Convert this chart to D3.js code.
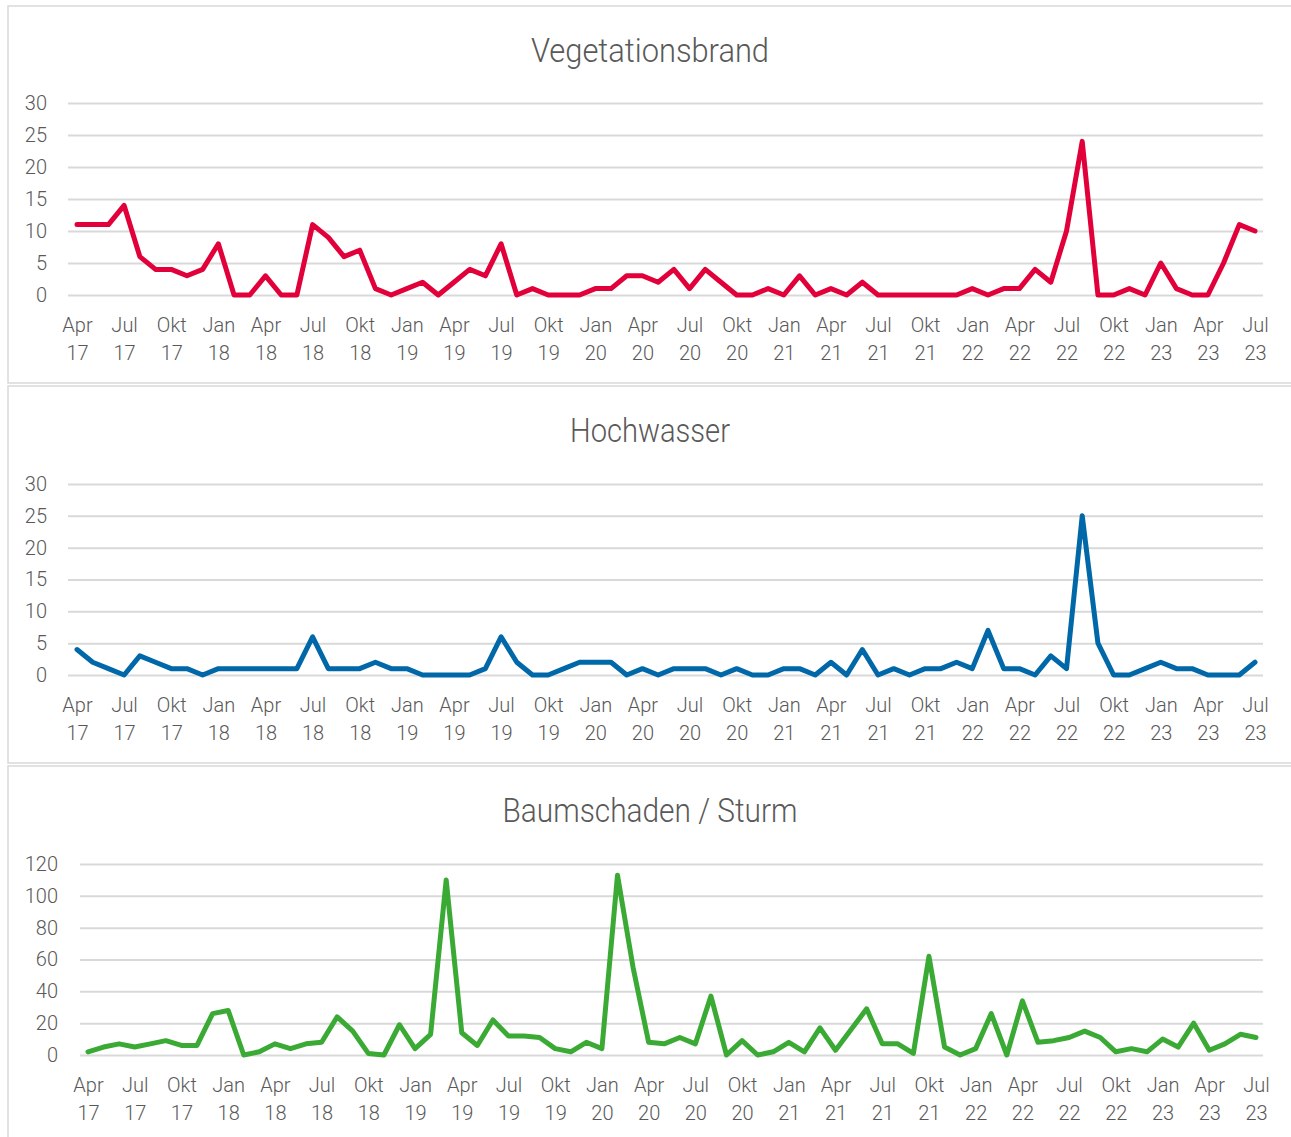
<!DOCTYPE html>
<html>
<head>
<meta charset="utf-8">
<script src="https://cdn.jsdelivr.net/npm/d3@7"></script>
<style>
  body { margin: 0; background: #fff; }
  svg text { font-family: Roboto, "Open Sans", sans-serif; font-weight: 300; fill: #595959; }
</style>
</head>
<body>
<div id="chart"></div>
<script>
// Monthly counts, Apr 2017 - Jul 2023
const monthNames = ['Jan', 'Feb', 'Mär', 'Apr', 'Mai', 'Jun', 'Jul', 'Aug', 'Sep', 'Okt', 'Nov', 'Dez']
const months = d3.timeMonth.range(new Date(2017, 3, 1), new Date(2023, 7, 1))

const vegetationsbrand = [
  11, 11, 11, 14, 6, 4, 4, 3, 4,
  8, 0, 0, 3, 0, 0, 11, 9, 6, 7, 1, 0,
  1, 2, 0, 2, 4, 3, 8, 0, 1, 0, 0, 0,
  1, 1, 3, 3, 2, 4, 1, 4, 2, 0, 0, 1,
  0, 3, 0, 1, 0, 2, 0, 0, 0, 0, 0, 0,
  1, 0, 1, 1, 4, 2, 10, 24, 0, 0, 1, 0,
  5, 1, 0, 0, 5, 11, 10
]
const hochwasser = [
  4, 2, 1, 0, 3, 2, 1, 1, 0,
  1, 1, 1, 1, 1, 1, 6, 1, 1, 1, 2, 1,
  1, 0, 0, 0, 0, 1, 6, 2, 0, 0, 1, 2,
  2, 2, 0, 1, 0, 1, 1, 1, 0, 1, 0, 0,
  1, 1, 0, 2, 0, 4, 0, 1, 0, 1, 1, 2,
  1, 7, 1, 1, 0, 3, 1, 25, 5, 0, 0, 1,
  2, 1, 1, 0, 0, 0, 2
]
const baumschaden = [
  2, 5, 7, 5, 7, 9, 6, 6, 26,
  28, 0, 2, 7, 4, 7, 8, 24, 15, 1, 0, 19,
  4, 13, 110, 14, 6, 22, 12, 12, 11, 4, 2, 8,
  4, 113, 55, 8, 7, 11, 7, 37, 0, 9, 0, 2,
  8, 2, 17, 3, 16, 29, 7, 7, 1, 62, 5, 0,
  4, 26, 0, 34, 8, 9, 11, 15, 11, 2, 4, 2,
  10, 5, 20, 3, 7, 13, 11
]

const width = 1291
const height = 1137

const panels = [
  { title: 'Vegetationsbrand', titleW: 238, values: vegetationsbrand, color: '#e2003b',
    boxTop: 6, boxBottom: 383, titleY: 62, yMax: 30, step: 5,
    x0: 77, x1: 1255, y0: 295, y1: 103, gridX0: 68, labelX: 47 },
  { title: 'Hochwasser', titleW: 160, values: hochwasser, color: '#0068a8',
    boxTop: 386, boxBottom: 763, titleY: 442, yMax: 30, step: 5,
    x0: 77, x1: 1255, y0: 675, y1: 484, gridX0: 68, labelX: 47 },
  { title: 'Baumschaden / Sturm', titleW: 295, values: baumschaden, color: '#3aaa35',
    boxTop: 766, boxBottom: 1145, titleY: 822, yMax: 120, step: 20,
    x0: 88, x1: 1256, y0: 1055, y1: 864, gridX0: 80, labelX: 58 }
]

const svg = d3.select('#chart')
  .append('svg')
  .attr('width', width)
  .attr('height', height)

const keys = months.map((d, i) => i)
const quarterTicks = keys.filter(i => (months[i].getMonth() % 3) === 0)

panels.forEach(p => {
  const g = svg.append('g')

  // panel frame
  g.append('rect')
    .attr('x', 8)
    .attr('y', p.boxTop)
    .attr('width', width)
    .attr('height', p.boxBottom - p.boxTop)
    .attr('fill', '#fff')
    .attr('stroke', '#d9d9d9')
    .attr('stroke-width', 1.5)

  // title
  g.append('text')
    .attr('x', 650)
    .attr('y', p.titleY)
    .attr('text-anchor', 'middle')
    .attr('font-size', 33)
    .attr('textLength', p.titleW)
    .attr('lengthAdjust', 'spacingAndGlyphs')
    .text(p.title)

  const xScale = d3.scalePoint()
    .domain(keys)
    .range([p.x0, p.x1])

  const yScale = d3.scaleLinear()
    .domain([0, p.yMax])
    .range([p.y0, p.y1])

  // gridlines + y labels
  const yAxis = d3.axisLeft(yScale)
    .tickValues(d3.range(0, p.yMax + 1, p.step))
    .tickSize(-(1263 - p.gridX0))
    .tickPadding(p.gridX0 - p.labelX)

  const gy = g.append('g')
    .attr('transform', `translate(${p.gridX0}, 0)`)
    .call(yAxis)
  gy.select('.domain').remove()
  gy.selectAll('line').attr('stroke', '#d9d9d9').attr('stroke-width', 2)
  gy.selectAll('text').attr('font-size', 20).attr('fill', '#595959')

  // x labels (two lines)
  const xAxis = d3.axisBottom(xScale)
    .tickValues(quarterTicks)
    .tickSize(0)
    .tickFormat('')

  const gx = g.append('g')
    .attr('transform', `translate(0, ${p.y0})`)
    .call(xAxis)
  gx.select('.domain').remove()
  gx.selectAll('.tick text').remove()
  const lbl = gx.selectAll('.tick')
    .append('text')
    .attr('text-anchor', 'middle')
    .attr('font-size', 20)
    .attr('fill', '#595959')
  lbl.append('tspan')
    .attr('x', 0)
    .attr('y', 37)
    .text(i => monthNames[months[i].getMonth()])
  lbl.append('tspan')
    .attr('x', 0)
    .attr('y', 65)
    .text(i => d3.timeFormat('%y')(months[i]))

  // line
  const line = d3.line()
    .x((d, i) => xScale(i))
    .y(d => yScale(d))

  g.append('path')
    .datum(p.values)
    .attr('fill', 'none')
    .attr('stroke', p.color)
    .attr('stroke-width', 5)
    .attr('stroke-linejoin', 'round')
    .attr('stroke-linecap', 'round')
    .attr('d', line)
})
</script>
</body>
</html>
